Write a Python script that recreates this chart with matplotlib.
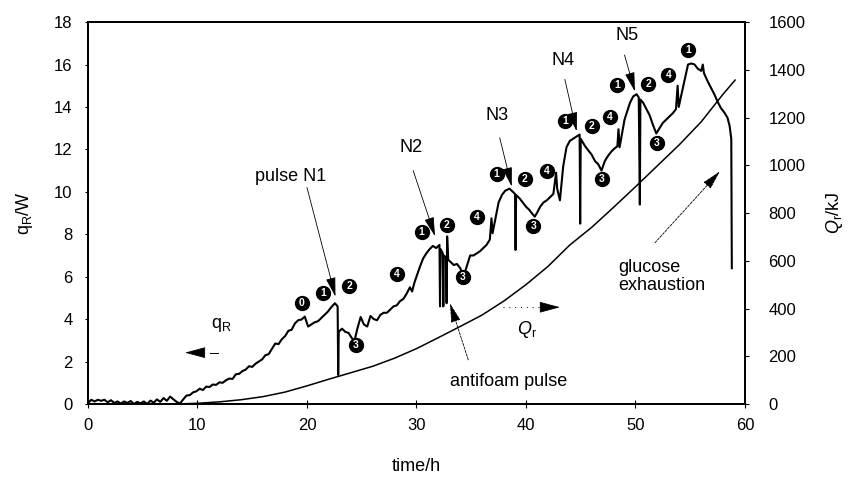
import numpy as np
import matplotlib.pyplot as plt

plt.rcParams['font.family'] = 'Liberation Sans'
plt.rcParams['mathtext.fontset'] = 'custom'
plt.rcParams['mathtext.rm'] = 'Liberation Sans'
plt.rcParams['mathtext.it'] = 'Liberation Sans:italic'

# heat flow trace q_R (W) vs time (h)
time_h = [
    0.0, 0.3, 0.6, 0.9, 1.2, 1.5, 1.8, 2.1, 2.4, 2.7,
    3.0, 3.3, 3.6, 3.9, 4.2, 4.5, 4.8, 5.1, 5.4, 5.7,
    6.0, 6.3, 6.6, 6.9, 7.2, 7.5, 7.8, 8.1, 8.4, 8.7,
    9.0, 9.3, 9.6, 9.9, 10.2, 10.5, 10.8, 11.1, 11.4, 11.7,
    12.0, 12.3, 12.6, 12.9, 13.2, 13.5, 13.8, 14.1, 14.4, 14.7,
    15.0, 15.3, 15.6, 15.9, 16.2, 16.5, 16.8, 17.1, 17.4, 17.7,
    18.0, 18.3, 18.6, 18.9, 19.2, 19.5, 19.8, 20.1, 20.4, 20.7,
    21.0, 21.3, 21.6, 21.9, 22.2, 22.55, 22.8, 22.85, 22.9, 23.2,
    23.5, 23.8, 24.1, 24.35, 24.6, 24.9, 25.2, 25.5, 25.8, 26.1,
    26.4, 26.7, 27.0, 27.3, 27.6, 27.9, 28.2, 28.5, 28.8, 29.1,
    29.4, 29.6, 29.8, 30.0, 30.3, 30.6, 30.9, 31.2, 31.5, 31.8,
    32.1, 32.15, 32.2, 32.4, 32.45, 32.5, 32.7, 32.75, 32.8, 32.9,
    33.1, 33.4, 33.7, 34.0, 34.3, 34.6, 34.9, 35.2, 35.5, 35.8,
    36.1, 36.4, 36.7, 36.85, 36.95, 37.2, 37.5, 37.8, 38.1, 38.5,
    38.8, 39.0, 39.05, 39.1, 39.4, 39.7, 40.0, 40.3, 40.6, 40.8,
    41.0, 41.3, 41.6, 41.9, 42.2, 42.5, 42.75, 42.85, 43.1, 43.4,
    43.7, 44.0, 44.3, 44.6, 44.9, 44.95, 45.0, 45.4, 45.7, 46.0,
    46.3, 46.6, 46.9, 47.2, 47.5, 47.8, 48.1, 48.35, 48.45, 48.55,
    49.0, 49.5, 49.8, 50.1, 50.3, 50.4, 50.45, 50.7, 51.0, 51.3,
    51.6, 51.9, 52.2, 52.5, 52.8, 53.1, 53.4, 53.7, 53.85, 53.95,
    54.2, 54.5, 54.8, 55.1, 55.4, 55.7, 56.0, 56.15, 56.25, 56.6,
    56.9, 57.2, 57.5, 57.8, 58.1, 58.4, 58.6, 58.75, 58.8,
]
q_R = [
    0.05, 0.2, 0.12, 0.2, 0.15, 0.2, 0.08, 0.18, 0.05, 0.12,
    0.02, 0.12, 0.05, 0.14, 0.0, 0.1, 0.03, 0.12, 0.0, 0.16,
    0.06, 0.22, 0.1, 0.28, 0.15, 0.35, 0.22, 0.1, 0.02, 0.22,
    0.4, 0.42, 0.55, 0.6, 0.72, 0.66, 0.82, 0.8, 0.92, 0.9,
    1.02, 1.0, 1.12, 1.2, 1.18, 1.4, 1.42, 1.55, 1.62, 1.78,
    1.75, 1.9, 2.0, 2.1, 2.3, 2.35, 2.6, 2.85, 2.82, 3.05,
    3.2, 3.45, 3.5, 3.8, 3.95, 3.98, 4.12, 3.65, 3.75, 3.85,
    3.9, 4.05, 4.2, 4.35, 4.55, 4.75, 4.6, 1.37, 3.4, 3.55,
    3.4, 3.35, 3.1, 3.0, 3.55, 4.1, 3.75, 3.65, 4.15, 4.0,
    3.95, 4.2, 4.3, 4.3, 4.45, 4.6, 4.65, 4.85, 4.95, 5.2,
    5.5, 5.3, 5.7, 6.0, 6.45, 6.85, 7.1, 7.3, 7.45, 7.35,
    7.5, 4.6, 7.3, 7.1, 4.6, 7.0, 6.9, 4.75, 7.9, 6.8,
    6.7, 6.55, 6.6, 6.4, 6.0, 6.5, 7.0, 7.0, 7.1, 7.2,
    7.35, 7.5, 7.75, 8.75, 8.05, 8.7, 9.5, 9.85, 10.05, 10.15,
    10.0, 9.9, 7.26, 9.85, 9.7, 9.5, 9.3, 9.15, 8.95, 8.83,
    9.0, 9.3, 9.5, 9.6, 9.75, 9.9, 10.9, 10.15, 9.6, 11.2,
    12.1, 12.4, 12.5, 12.6, 12.7, 8.5, 12.5, 12.15, 11.95, 11.75,
    11.45, 11.3, 11.0, 11.45, 11.7, 11.9, 12.05, 12.15, 12.95, 12.1,
    13.4, 14.2, 14.5, 14.6, 14.45, 9.4, 14.35, 14.2, 13.9, 13.6,
    13.15, 12.75, 13.0, 13.25, 13.4, 13.55, 13.7, 13.9, 15.0, 14.0,
    14.6, 15.3, 16.0, 16.05, 16.0, 15.8, 15.7, 16.0, 15.6, 15.2,
    14.9, 14.6, 14.25, 13.95, 13.75, 13.5, 13.1, 12.5, 6.4,
]

# cumulative heat Q_r (kJ)
time_Q = [0, 8, 10, 12, 14, 16, 18, 20, 22, 24, 26, 28, 30, 32,
          34, 36, 38, 40, 42, 44, 46, 48, 50, 52, 54, 56, 58, 59.1]
Q_r = [0, 0, 3, 9, 18, 31, 50, 76, 104, 131, 158, 192, 232, 278,
       325, 373, 432, 500, 576, 666, 740, 824, 910, 998, 1086, 1182, 1298, 1357]

# phase markers along the trace
phase_txt = ['0', '1', '2', '3', '4', '1', '2', '3', '4', '1', '2',
             '3', '4', '1', '2', '3', '4', '1', '2', '3', '4', '1']
phase_t = [19.52, 21.49, 23.84, 24.47, 28.19, 30.47, 32.76, 34.22, 35.5,
           37.32, 39.9, 40.67, 41.9, 43.56, 46.0, 46.9, 47.67, 48.34,
           51.17, 51.94, 53.0, 54.8]
phase_q = [4.78, 5.22, 5.57, 2.78, 6.13, 8.1, 8.44, 5.98, 8.8, 10.85,
           10.6, 8.4, 10.96, 13.36, 13.08, 10.6, 13.55, 15.05, 15.08,
           12.3, 15.5, 16.7]

# nutrient pulses: label, label pos, line start, arrow tip
pulses = [
    ('pulse N1', (18.5, 10.72), (20.0, 10.2), (22.6, 5.06)),
    ('N2', (29.55, 12.1), (29.7, 11.0), (31.7, 7.9)),
    ('N3', (37.4, 13.58), (37.6, 12.55), (38.7, 10.25)),
    ('N4', (43.4, 16.2), (43.55, 15.3), (44.63, 12.85)),
    ('N5', (49.2, 17.36), (49.0, 16.45), (49.95, 14.73)),
]

fig = plt.figure(figsize=(8.51, 4.78), dpi=100)
ax = fig.add_axes([0.1034, 0.1548, 0.772, 0.799])
ax.plot(time_h, q_R, color='k', lw=1.5, solid_joinstyle='round')
ax.set_xlim(0, 60)
ax.set_ylim(0, 18)
ax.set_xticks(range(0, 61, 10))
ax.set_yticks(range(0, 19, 2))
ax.set_xlabel('time/h', fontsize=13, labelpad=18)
ax.set_ylabel('q$_\\mathrm{R}$/W', fontsize=13, labelpad=14)
ax.tick_params(axis='x', direction='inout', length=6, width=0.8,
               labelsize=12, pad=7)
ax.tick_params(axis='y', direction='out', length=2, width=0.8,
               labelsize=12, pad=9)

ax2 = ax.twinx()
ax2.plot(time_Q, Q_r, color='k', lw=1.1)
ax2.set_ylim(0, 1600)
ax2.set_yticks(range(0, 1601, 200))
ax2.set_ylabel('$Q_\\mathrm{r}$/kJ', fontsize=13, labelpad=13)
ax2.tick_params(axis='y', direction='out', length=3, width=0.8,
                labelsize=12, pad=14)

for a in (ax, ax2):
    for s in a.spines.values():
        s.set_linewidth(1.3)

# circled phase numbers
ax.scatter(phase_t, phase_q, s=100, c='k', zorder=5)
for t, q, s in zip(phase_t, phase_q, phase_txt):
    ax.text(t, q, s, color='white', fontsize=7.5, fontweight='bold',
            ha='center', va='center', zorder=6)

head = dict(arrowstyle='-|>,head_length=1.2,head_width=0.3',
            mutation_scale=10, lw=0.6, color='k', shrinkA=0, shrinkB=0)

for label, pos, start, tip in pulses:
    ax.text(pos[0], pos[1], label, fontsize=13, ha='center', va='center')
    ax.annotate('', xy=tip, xytext=start, arrowprops=head)

ax.text(48.4, 6.0, 'glucose\nexhaustion', fontsize=13, ha='left',
        va='center', linespacing=1.1)
ax.annotate('', xy=(57.7, 10.96), xytext=(51.78, 7.6),
            arrowprops=dict(head, ls=(0, (3, 1.5))))

ax.text(38.4, 1.05, 'antifoam pulse', fontsize=13, ha='center', va='center')
ax.annotate('', xy=(33.06, 4.75), xytext=(34.73, 2.08),
            arrowprops=dict(head, ls=(0, (3, 1.5))))

# series labels with direction arrows
small_head = dict(arrowstyle='-|>,head_length=1.3,head_width=0.35',
                  mutation_scale=10, lw=0.6, color='k', shrinkA=0, shrinkB=0)
ax.text(12.2, 3.73, 'q$_\\mathrm{R}$', fontsize=13, ha='center', va='center')
ax.annotate('', xy=(8.86, 2.42), xytext=(10.3, 2.42), arrowprops=small_head)
ax.plot([11.1, 11.9], [2.42, 2.42], color='k', lw=0.7)

ax.text(40.06, 3.52, '$Q_\\mathrm{r}$', fontsize=13, ha='center', va='center')
ax.annotate('', xy=(43.1, 4.56), xytext=(41.8, 4.56), arrowprops=small_head)
ax.plot([37.9, 41.8], [4.56, 4.56], color='k', lw=0.7, ls=(0, (1, 5)))

fig.savefig('out.png', dpi=100)
